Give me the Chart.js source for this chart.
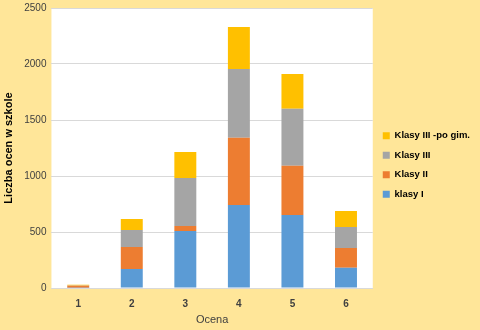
<!DOCTYPE html>
<html>
<head>
<meta charset="utf-8">
<script src="https://cdn.jsdelivr.net/npm/chart.js@4"></script>
<style>
  html, body { margin: 0; padding: 0; background: #FFE699; }
  #wrap { width: 480px; height: 330px; }
</style>
</head>
<body>
<div id="wrap"><canvas id="myChart"></canvas></div>
<script>
// dane
const oceny = ['1', '2', '3', '4', '5', '6'];
const klasyI = [3, 170, 509, 741, 652, 181];
const klasyII = [17, 196, 45, 601, 440, 176];
const klasyIII = [2, 152, 428, 613, 509, 188];
const klasyIIIpoGim = [6, 98, 232, 375, 310, 143];
const yTicks = [0, 500, 1000, 1500, 2000, 2500];

// white plot area on the yellow background
const plotBg = {
  id: 'plotBg',
  beforeDraw(chart) {
    const c = chart.ctx, a = chart.chartArea;
    c.save();
    c.fillStyle = '#FFE699';
    c.fillRect(0, 0, chart.width, chart.height);
    c.fillStyle = '#FFFFFF';
    c.fillRect(a.left, a.top, a.right - a.left, a.bottom - a.top);
    c.restore();
  }
};

const ctx = document.getElementById('myChart');

new Chart(ctx, {
  type: 'bar',
  data: {
    labels: oceny,
    datasets: [
      { label: 'klasy I', data: klasyI, backgroundColor: '#5B9BD5' },
      { label: 'Klasy II', data: klasyII, backgroundColor: '#ED7D31' },
      { label: 'Klasy III', data: klasyIII, backgroundColor: '#A5A5A5' },
      { label: 'Klasy III -po gim.', data: klasyIIIpoGim, backgroundColor: '#FFC000' }
    ]
  },
  options: {
    responsive: true,
    maintainAspectRatio: false,
    animation: false,
    datasets: {
      bar: { barPercentage: 0.41, categoryPercentage: 1 }
    },
    layout: { padding: { top: 0, left: 0, bottom: 0, right: 0 } },
    scales: {
      x: {
        stacked: true,
        afterFit: function(scale) {
          scale.height = 42;
        },
        grid: { display: false, drawTicks: false },
        border: { color: '#D9D9D9' },
        ticks: { color: '#404040', padding: 10, font: { size: 10, weight: 'bold', family: "'Liberation Sans', sans-serif" } },
        title: {
          display: true,
          text: 'Ocena',
          color: '#404040',
          padding: { top: 4, bottom: 3 },
          font: { size: 11, family: "'Liberation Sans', sans-serif" }
        }
      },
      y: {
        stacked: true,
        min: 0,
        max: 2500,
        afterBuildTicks: function(axis) {
          axis.ticks = yTicks.map(v => ({ value: v }));
        },
        afterFit: function(scale) {
          scale.paddingTop = 8;
        },
        grid: { color: '#D9D9D9', drawTicks: false },
        border: { display: false },
        ticks: {
          color: '#404040',
          padding: 5,
          font: { size: 10, family: "'Liberation Sans', sans-serif" },
          callback: function(value) {
            return String(value);
          }
        },
        title: {
          display: true,
          text: 'Liczba ocen w szkole',
          color: '#000000',
          padding: { top: 2, bottom: 4 },
          font: { size: 11, weight: 'bold', family: "'Liberation Sans', sans-serif" }
        }
      }
    },
    plugins: {
      legend: {
        position: 'right',
        reverse: true,
        labels: {
          boxWidth: 7,
          boxHeight: 7,
          padding: 10,
          color: '#000000',
          font: { size: 9.5, weight: 'bold', family: "'Liberation Sans', sans-serif" }
        }
      },
      tooltip: { enabled: false }
    }
  },
  plugins: [plotBg]
});
</script>
</body>
</html>
